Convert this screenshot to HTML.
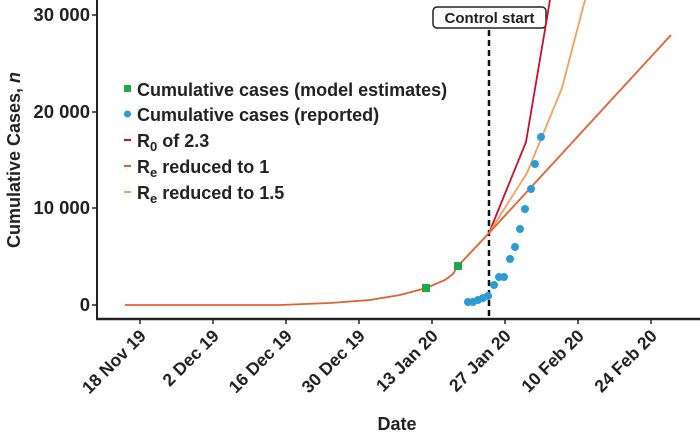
<!DOCTYPE html>
<html><head><meta charset="utf-8"><style>
html,body{margin:0;padding:0;background:#fff;}
svg{display:block;font-family:"Liberation Sans",sans-serif;}
</style></head><body>
<svg width="700" height="437" viewBox="0 0 700 437" xmlns="http://www.w3.org/2000/svg">
<rect width="700" height="437" fill="#fff"/>
<line x1="97" y1="0" x2="97" y2="319" stroke="#222" stroke-width="2"/>
<line x1="96" y1="319" x2="700" y2="319" stroke="#222" stroke-width="2.5"/>
<g stroke="#222" stroke-width="1.5">
<line x1="92" y1="15" x2="97" y2="15"/><line x1="92" y1="112" x2="97" y2="112"/>
<line x1="92" y1="208" x2="97" y2="208"/><line x1="92" y1="305" x2="97" y2="305"/>
<line x1="140" y1="319" x2="140" y2="324"/><line x1="213" y1="319" x2="213" y2="324"/>
<line x1="286" y1="319" x2="286" y2="324"/><line x1="359" y1="319" x2="359" y2="324"/>
<line x1="432" y1="319" x2="432" y2="324"/><line x1="505" y1="319" x2="505" y2="324"/>
<line x1="578" y1="319" x2="578" y2="324"/><line x1="651" y1="319" x2="651" y2="324"/>
</g>
<g font-size="18.5" font-weight="bold" fill="#222" text-anchor="end">
<text x="90" y="21">30 000</text><text x="90" y="118">20 000</text>
<text x="90" y="214">10 000</text><text x="90" y="311">0</text>
</g>
<g font-size="17.5" font-weight="bold" fill="#222" text-anchor="end">
<text transform="translate(147,337) rotate(-45)">18 Nov 19</text>
<text transform="translate(220,337) rotate(-45)">2 Dec 19</text>
<text transform="translate(293,337) rotate(-45)">16 Dec 19</text>
<text transform="translate(366,337) rotate(-45)">30 Dec 19</text>
<text transform="translate(439,337) rotate(-45)">13 Jan 20</text>
<text transform="translate(512,337) rotate(-45)">27 Jan 20</text>
<text transform="translate(585,337) rotate(-45)">10 Feb 20</text>
<text transform="translate(658,337) rotate(-45)">24 Feb 20</text>
</g>
<text x="397" y="430" font-size="18" font-weight="bold" fill="#222" text-anchor="middle">Date</text>
<text transform="translate(20,160) rotate(-90)" font-size="18" font-weight="bold" fill="#222" text-anchor="middle">Cumulative Cases, <tspan font-style="italic">n</tspan></text>
<line x1="489" y1="30" x2="489" y2="319" stroke="#111" stroke-width="2.5" stroke-dasharray="6,4"/>
<rect x="433" y="7" width="113" height="21" rx="4" fill="#fff" stroke="#222" stroke-width="1.5"/>
<text x="489.5" y="23" font-size="15" font-weight="bold" fill="#222" text-anchor="middle">Control start</text>
<polyline fill="none" stroke="#c8102e" stroke-width="1.8" points="489,233 526,142 550,0"/>
<polyline fill="none" stroke="#f0a060" stroke-width="1.8" points="489,233 527,173 562,88 585,0"/>
<polyline fill="none" stroke="#e2622e" stroke-width="1.8" points="125,305 280,305 330,303 370,300 400,295 415,291 426,288 445,280 453,274 458,266 489,233 671,35"/>
<rect x="422" y="284" width="8" height="8" fill="#1fa84a"/>
<rect x="454" y="262" width="8" height="8" fill="#1fa84a"/>
<g fill="#2b9bd4">
<circle cx="468" cy="302" r="4"/><circle cx="473" cy="302" r="4"/><circle cx="478" cy="300" r="4"/>
<circle cx="483" cy="298" r="4"/><circle cx="488" cy="296" r="4"/><circle cx="494" cy="285" r="4"/>
<circle cx="499" cy="277" r="4"/><circle cx="504" cy="277" r="4"/><circle cx="510" cy="259" r="4"/>
<circle cx="515" cy="247" r="4"/><circle cx="520" cy="229" r="4"/><circle cx="525" cy="209" r="4"/>
<circle cx="531" cy="189" r="4"/><circle cx="535" cy="164" r="4"/><circle cx="541" cy="137" r="4"/>
</g>
<rect x="124" y="85" width="7" height="7" fill="#1fa84a"/>
<circle cx="127.5" cy="114" r="3.5" fill="#2b9bd4"/>
<line x1="124" y1="140" x2="131" y2="140" stroke="#c8102e" stroke-width="2"/>
<line x1="124" y1="166" x2="131" y2="166" stroke="#e2622e" stroke-width="2"/>
<line x1="124" y1="192" x2="131" y2="192" stroke="#f0a060" stroke-width="2"/>
<g font-size="18" font-weight="bold" fill="#222">
<text x="137" y="96">Cumulative cases (model estimates)</text>
<text x="137" y="121">Cumulative cases (reported)</text>
<text x="137" y="147">R<tspan font-size="13" dy="4">0</tspan><tspan dy="-4"> of 2.3</tspan></text>
<text x="137" y="173">R<tspan font-size="13" dy="4">e</tspan><tspan dy="-4"> reduced to 1</tspan></text>
<text x="137" y="199">R<tspan font-size="13" dy="4">e</tspan><tspan dy="-4"> reduced to 1.5</tspan></text>
</g>
</svg>
</body></html>
